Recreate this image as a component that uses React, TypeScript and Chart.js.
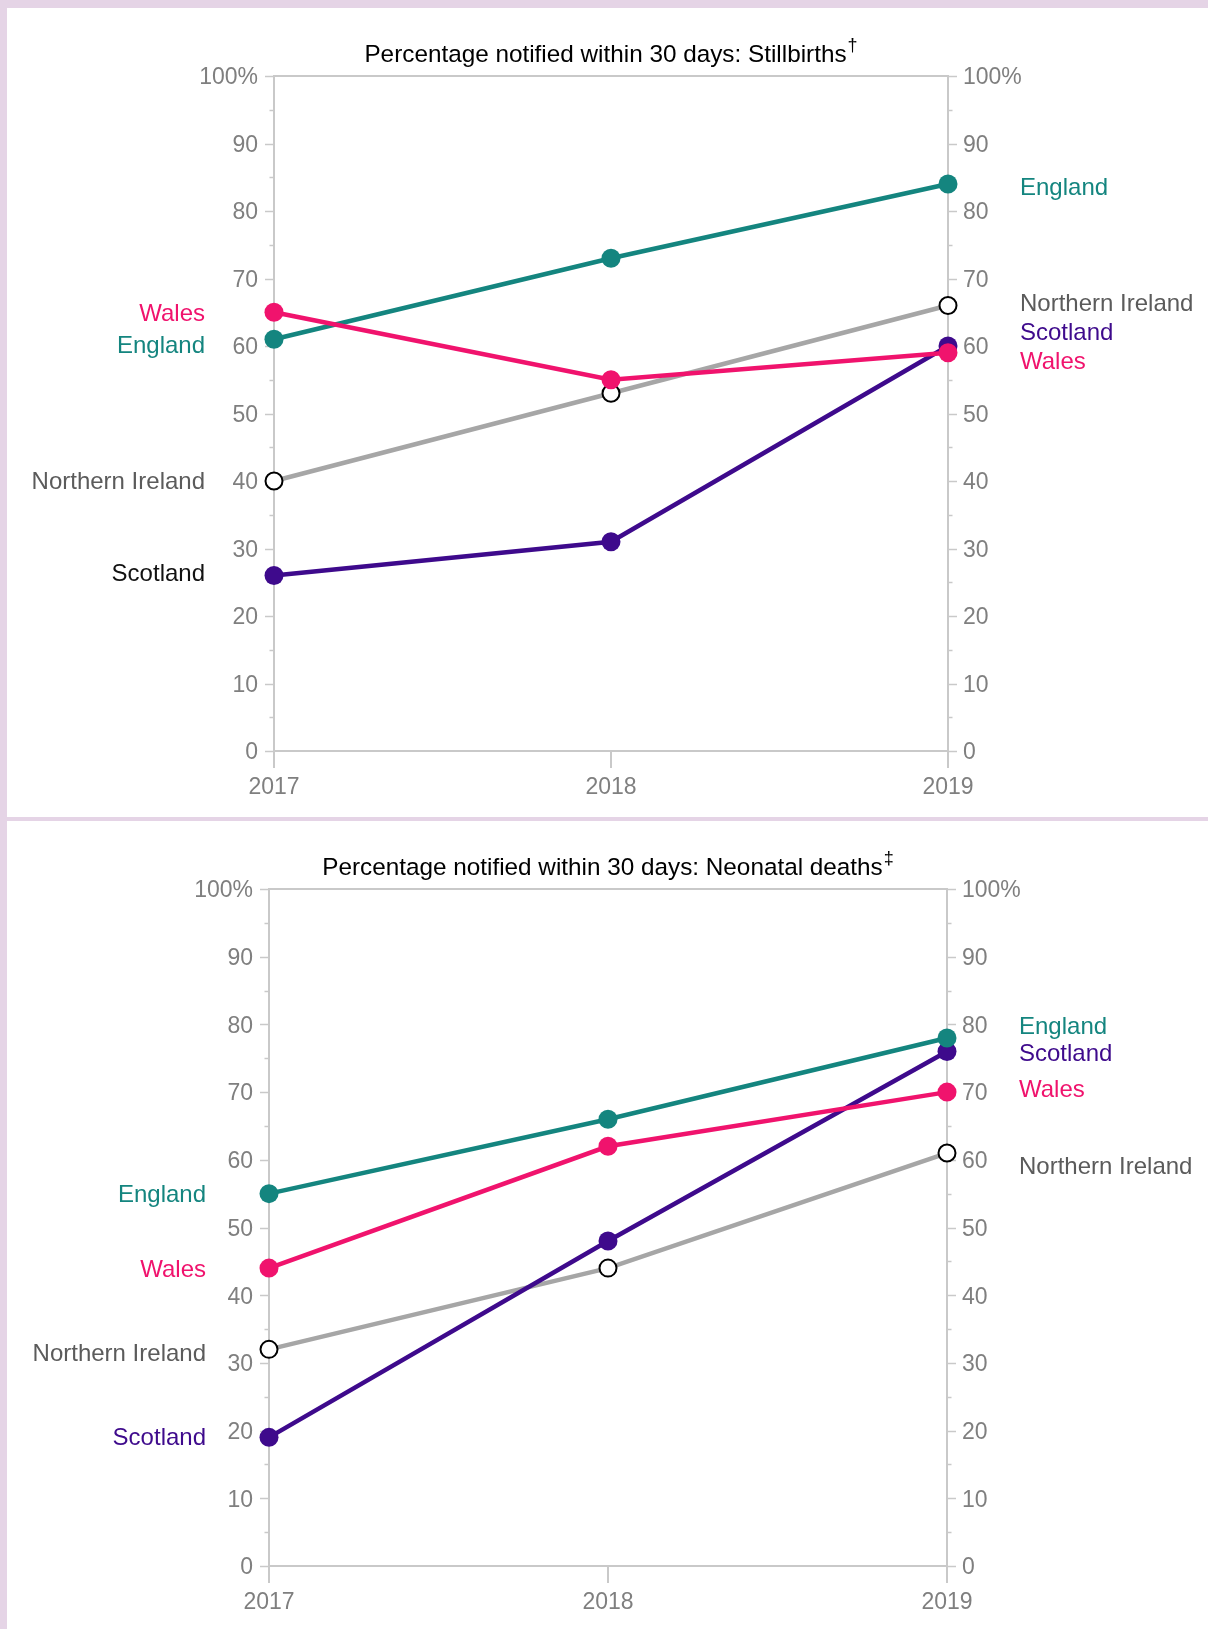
import React, { useEffect, useRef } from 'react';
import { Chart, registerables } from 'chart.js';

Chart.register(...registerables);

// ---------- data ----------
const years = ['2017', '2018', '2019'];
const countryNames = ['Wales', 'England', 'Scotland', 'Northern Ireland'];

const stillEngland = [61, 73, 84];
const stillWales = [65, 55, 59];
const stillScotland = [26, 31, 60];
const stillNorthernIreland = [40, 53, 66];

const neoEngland = [55, 66, 78];
const neoWales = [44, 62, 70];
const neoScotland = [19, 48, 76];
const neoNorthernIreland = [32, 44, 61];

// direct-label anchor values (%), order: Wales, England, Scotland, Northern Ireland
const stillLeftLabelAt = [65, 60.3, 26.4, 40.1];
const stillRightLabelAt = [57.9, 83.6, 62.2, 66.5];
const neoLeftLabelAt = [44, 55.1, 19.1, 31.6];
const neoRightLabelAt = [70.5, 79.9, 75.8, 59.2];

// ---------- styles ----------
const FONT = '"Liberation Sans", Arial, Helvetica, sans-serif';
const AXIS = '#c9c9c9';
const TICK = '#7f7f7f';
const BG = '#e5d4e6';
const COLORS = {
  Wales: '#f0136d',
  England: '#14857f',
  Scotland: '#3e0a8c',
  'Northern Ireland': '#a6a6a6',
};
const NI_TEXT = '#5b5b5b';

type PanelProps = {
  title: string;
  mark: string;
  series: number[][];
  leftAt: number[];
  rightAt: number[];
  leftTextColors: string[];
  rightTextColors: string[];
  leftLabelGap: number;
  width: number;
  height: number;
  areaLeft: number;
  areaRight: number;
  areaTop: number;
  areaBottom: number;
};

const tickText = (v: number) => (v === 100 ? '100%' : v % 10 === 0 ? String(v) : '');

function Panel(p: PanelProps) {
  const ref = useRef<HTMLCanvasElement | null>(null);

  useEffect(() => {
    if (!ref.current) return;

    const decor = {
      id: 'decor',
      beforeDatasetsDraw(chart: any) {
        const ctx = chart.ctx as CanvasRenderingContext2D;
        const ys = chart.scales.y;
        const area = chart.chartArea;
        ctx.save();
        // y-axis tick marks (major every 10, minor every 5) and labels
        ctx.strokeStyle = AXIS;
        ctx.lineWidth = 1.5;
        ctx.font = `23px ${FONT}`;
        ctx.fillStyle = TICK;
        ctx.textBaseline = 'middle';
        for (const t of ys.ticks) {
          const v = t.value;
          const py = ys.getPixelForValue(v);
          const y = Math.round(py) + 0.5;
          const len = v % 10 === 0 ? 9 : 4.5;
          ctx.beginPath();
          ctx.moveTo(area.left - len, y);
          ctx.lineTo(area.left, y);
          ctx.moveTo(area.right, y);
          ctx.lineTo(area.right + len, y);
          ctx.stroke();
          const s = tickText(v);
          if (s) {
            ctx.textAlign = 'right';
            ctx.fillText(s, area.left - 16, py + 2);
            ctx.textAlign = 'left';
            ctx.fillText(s, area.right + 15, py + 2);
          }
        }
        ctx.restore();
      },
      afterDraw(chart: any) {
        const ctx = chart.ctx as CanvasRenderingContext2D;
        const ys = chart.scales.y;
        const area = chart.chartArea;
        ctx.save();
        // title with superscript mark
        ctx.fillStyle = '#000';
        ctx.textBaseline = 'middle';
        ctx.font = `24.3px ${FONT}`;
        const tw = ctx.measureText(p.title).width;
        ctx.font = `18px ${FONT}`;
        const mw = ctx.measureText(p.mark).width;
        const cx = (area.left + area.right) / 2;
        const x0 = cx - (tw + mw + 1) / 2;
        const ty = area.top - 21;
        ctx.font = `24.3px ${FONT}`;
        ctx.textAlign = 'left';
        ctx.fillText(p.title, x0, ty);
        ctx.font = `18px ${FONT}`;
        ctx.fillText(p.mark, x0 + tw + 1, ty - 9);
        // direct labels
        ctx.font = `24px ${FONT}`;
        ctx.textAlign = 'right';
        countryNames.forEach((n, i) => {
          ctx.fillStyle = p.leftTextColors[i];
          ctx.fillText(n, area.left - p.leftLabelGap, ys.getPixelForValue(p.leftAt[i]) + 2);
        });
        ctx.textAlign = 'left';
        countryNames.forEach((n, i) => {
          ctx.fillStyle = p.rightTextColors[i];
          ctx.fillText(n, area.right + 72, ys.getPixelForValue(p.rightAt[i]) + 2);
        });
        ctx.restore();
      },
    };

    const tickFont = { family: FONT, size: 23 };

    const datasets = countryNames.map((n, i) => {
      const open = n === 'Northern Ireland';
      const c = (COLORS as any)[n];
      return {
        label: n,
        data: p.series[i],
        borderColor: c,
        backgroundColor: c,
        borderWidth: 4.5,
        pointRadius: open ? 8.5 : 9.5,
        pointHoverRadius: open ? 8.5 : 9.5,
        pointBorderWidth: open ? 2 : 0,
        pointBackgroundColor: open ? '#ffffff' : c,
        pointBorderColor: open ? '#000000' : c,
        tension: 0,
        clip: false as any,
      };
    });

    const W = p.width;
    const H = p.height;

    const chart = new Chart(ref.current, {
      type: 'line',
      data: { labels: years, datasets },
      options: {
        animation: false,
        responsive: false,
        maintainAspectRatio: false,
        events: [],
        layout: { padding: { top: p.areaTop, left: 0, right: 0, bottom: 0 } },
        plugins: {
          legend: { display: false },
          title: { display: false },
          tooltip: { enabled: false },
        },
        scales: {
          x: {
            type: 'category',
            offset: false,
            grid: {
              display: true,
              drawOnChartArea: false,
              drawTicks: true,
              tickLength: 17,
              color: AXIS,
              lineWidth: 2,
            },
            border: { display: false },
            ticks: { color: TICK, font: tickFont, padding: 6, maxRotation: 0, autoSkip: false },
            afterFit: (s: any) => {
              s.height = H - p.areaBottom;
            },
          },
          y: {
            position: 'left',
            min: 0,
            max: 100,
            ticks: { stepSize: 5, display: false, autoSkip: false },
            grid: {
              drawTicks: false,
              lineWidth: 2,
              color: (c: any) =>
                c.tick && (c.tick.value === 0 || c.tick.value === 100) ? AXIS : 'rgba(0,0,0,0)',
            },
            border: { display: true, color: AXIS, width: 2 },
            afterFit: (s: any) => {
              s.width = p.areaLeft;
            },
          },
          y2: {
            position: 'right',
            min: 0,
            max: 100,
            ticks: { stepSize: 5, display: false, autoSkip: false },
            grid: { display: false, drawTicks: false },
            border: { display: true, color: AXIS, width: 2 },
            afterFit: (s: any) => {
              s.width = W - p.areaRight;
            },
          },
        },
      } as any,
      plugins: [decor],
    });

    return () => chart.destroy();
  }, []);

  return <canvas ref={ref} width={p.width} height={p.height} style={{ display: 'block' }} />;
}

const textColorsStillLeft = [COLORS.Wales, COLORS.England, '#111111', NI_TEXT];
const textColorsRight = [COLORS.Wales, COLORS.England, COLORS.Scotland, NI_TEXT];
const textColorsNeoLeft = [COLORS.Wales, COLORS.England, COLORS.Scotland, NI_TEXT];

export default function App() {
  return (
    <div
      style={{
        position: 'absolute',
        left: 0,
        top: 0,
        width: 1208,
        height: 1629,
        background: BG,
        overflow: 'hidden',
      }}
    >
      <div style={{ position: 'absolute', left: 7, top: 8, width: 1201, height: 809, background: '#fff' }}>
        <Panel
          title="Percentage notified within 30 days: Stillbirths"
          mark="†"
          series={[stillWales, stillEngland, stillScotland, stillNorthernIreland]}
          leftAt={stillLeftLabelAt}
          rightAt={stillRightLabelAt}
          leftTextColors={textColorsStillLeft}
          rightTextColors={textColorsRight}
          leftLabelGap={69}
          width={1201}
          height={809}
          areaLeft={267}
          areaRight={941}
          areaTop={68}
          areaBottom={743}
        />
      </div>
      <div style={{ position: 'absolute', left: 7, top: 821, width: 1201, height: 808, background: '#fff' }}>
        <Panel
          title="Percentage notified within 30 days: Neonatal deaths"
          mark="‡"
          series={[neoWales, neoEngland, neoScotland, neoNorthernIreland]}
          leftAt={neoLeftLabelAt}
          rightAt={neoRightLabelAt}
          leftTextColors={textColorsNeoLeft}
          rightTextColors={textColorsRight}
          leftLabelGap={63}
          width={1201}
          height={808}
          areaLeft={262}
          areaRight={940}
          areaTop={68}
          areaBottom={745}
        />
      </div>
    </div>
  );
}
